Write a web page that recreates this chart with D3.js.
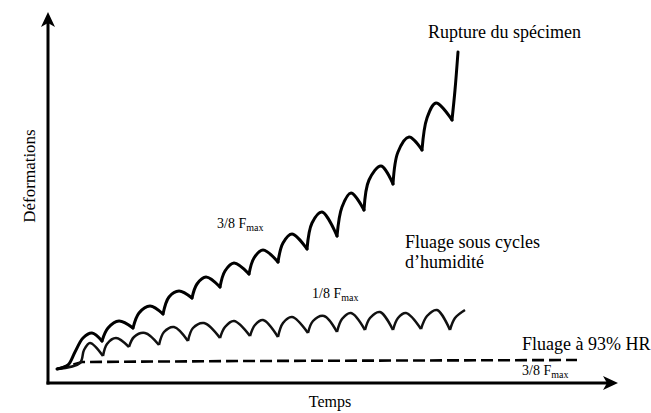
<!DOCTYPE html>
<html>
<head>
<meta charset="utf-8">
<script src="https://cdn.jsdelivr.net/npm/d3@7"></script>
<style>
  body { margin: 0; background: #fff; }
  svg { display: block; }
  text { font-family: "Liberation Serif", "Times New Roman", serif; fill: #000; }
</style>
</head>
<body>
<svg id="chart" width="651" height="413"></svg>
<script>
// Temps (x) / Déformations (y) : unités arbitraires.
// Chaque cycle : creux, épaulement, pic.
const fluageCycles38 = [
    [9,14], [20,18], [27,31], [35,45], [44,50],
    [54,42], [60,55], [71,62],
    [85,55], [91,70], [102,77],
    [115,69], [121,86], [131,92],
    [144,85], [149,99], [158,106],
    [172,96], [177,112], [186,120],
    [201,109], [206,125], [215,133],
    [230,121], [235,140], [244,149],
    [259,134], [264,160], [274,171],
    [289,147], [294,176], [303,190],
    [316,173], [321,203], [333,217],
    [345,199], [350,231], [361,246],
    [374,233], [379,265], [388,280],
    [404,263], [407,293], [410,331]
];

const fluageCycles18 = [
    [9,14], [32,20], [36,33], [42,40],
    [55,27], [59,39], [68,45],
    [81,36], [86,46], [97,50],
    [111,38], [116,51], [126,56],
    [140,42], [145,55], [156,60],
    [172,45], [177,56], [186,62],
    [202,47], [207,58], [215,63],
    [230,46], [235,60], [244,66],
    [260,50], [265,62], [276,67],
    [289,51], [294,64], [303,70],
    [317,53], [322,65], [332,71],
    [345,53], [350,65], [358,70],
    [373,54], [379,67], [389,73],
    [402,53], [407,65], [417,73]
];

const fluage93HR = [[9,14], [34,21], [200,22], [529,23]];

const xDomain = [0, 570];
const yDomain = [0, 371];

const svg = d3.select("#chart");
const x = d3.scaleLinear().domain(xDomain).range([48, 618]);
const y = d3.scaleLinear().domain(yDomain).range([383, 12]);

// découpe une courbe aux creux -> angle vif au creux
function splitAtTroughs(pts) {
    let segs = [];
    let cur = [pts[0]];
    for (let i = 1; i < pts.length; i++) {
        cur.push(pts[i]);
        if (i < pts.length - 1 && pts[i][1] < pts[i-1][1] && pts[i][1] < pts[i+1][1]) {
            segs.push(cur);
            cur = [pts[i]];
        }
    }
    segs.push(cur);
    return segs;
}

const line = d3.line()
    .x((d) => x(d[0]))
    .y((d) => y(d[1]))
    .curve(d3.curveCatmullRom.alpha(0.5));

const straight = d3.line()
    .x((d) => x(d[0]))
    .y((d) => y(d[1]));

// fluage à 93% HR (tirets)
svg.append("path")
    .attr("d", straight(fluage93HR))
    .attr("fill", "none")
    .attr("stroke", "#000")
    .attr("stroke-width", 2.6)
    .attr("stroke-dasharray", "12,5");

svg.append("g").selectAll("path.c18")
    .data(splitAtTroughs(fluageCycles18))
    .enter()
    .append("path")
    .attr("class", "c18")
    .attr("d", (d) => line(d))
    .attr("fill", "none")
    .attr("stroke", "#111")
    .attr("stroke-width", 2.5)
    .attr("stroke-linejoin", "round");

svg.append("g").selectAll("path.c38")
    .data(splitAtTroughs(fluageCycles38))
    .enter()
    .append("path")
    .attr("class", "c38")
    .attr("d", (d) => line(d))
    .attr("fill", "none")
    .attr("stroke", "#000")
    .attr("stroke-width", 3)
    .attr("stroke-linecap", "round")
    .attr("stroke-linejoin", "round");

// axes
const x0 = x.range()[0], x1 = x.range()[1];
const y0 = y.range()[0], y1 = y.range()[1];

svg.append("line")
    .attr("x1", x0).attr("y1", y0 + 1.5)
    .attr("x2", x0).attr("y2", y1 + 8)
    .attr("stroke", "#000").attr("stroke-width", 3);
svg.append("line")
    .attr("x1", x0 - 1.5).attr("y1", y0)
    .attr("x2", x1 - 8).attr("y2", y0)
    .attr("stroke", "#000").attr("stroke-width", 3);

svg.append("path")
    .attr("d", `M${x0},${y1} L${x0 + 7},${y1 + 15} L${x0},${y1 + 11} L${x0 - 7},${y1 + 15} Z`)
    .attr("fill", "#000");
svg.append("path")
    .attr("d", `M${x1},${y0} L${x1 - 15},${y0 - 7} L${x1 - 11},${y0} L${x1 - 15},${y0 + 7} Z`)
    .attr("fill", "#000");

// titres d'axes
svg.append("text")
    .attr("x", 330).attr("y", 407)
    .attr("text-anchor", "middle")
    .attr("font-size", 16)
    .text("Temps");

svg.append("text")
    .attr("transform", "translate(35,176) rotate(-90)")
    .attr("text-anchor", "middle")
    .attr("font-size", 17)
    .text("Déformations");

// annotations
function plain(tx, ty, str, size) {
    svg.append("text")
        .attr("x", tx).attr("y", ty)
        .attr("font-size", size)
        .text(str);
}
function fmax(tx, ty, frac) {
    let t = svg.append("text")
        .attr("x", tx).attr("y", ty)
        .attr("font-size", 14);
    t.append("tspan").text(frac + " F");
    t.append("tspan")
        .attr("font-size", 10)
        .attr("dy", 3)
        .text("max");
}

plain(428, 38, "Rupture du spécimen", 18);
plain(405, 248, "Fluage sous cycles", 18);
plain(405, 268, "d’humidité", 18);
plain(522, 350, "Fluage à 93% HR", 18);
fmax(217, 228, "3/8");
fmax(312, 298, "1/8");
fmax(522, 375, "3/8");
</script>
</body>
</html>
